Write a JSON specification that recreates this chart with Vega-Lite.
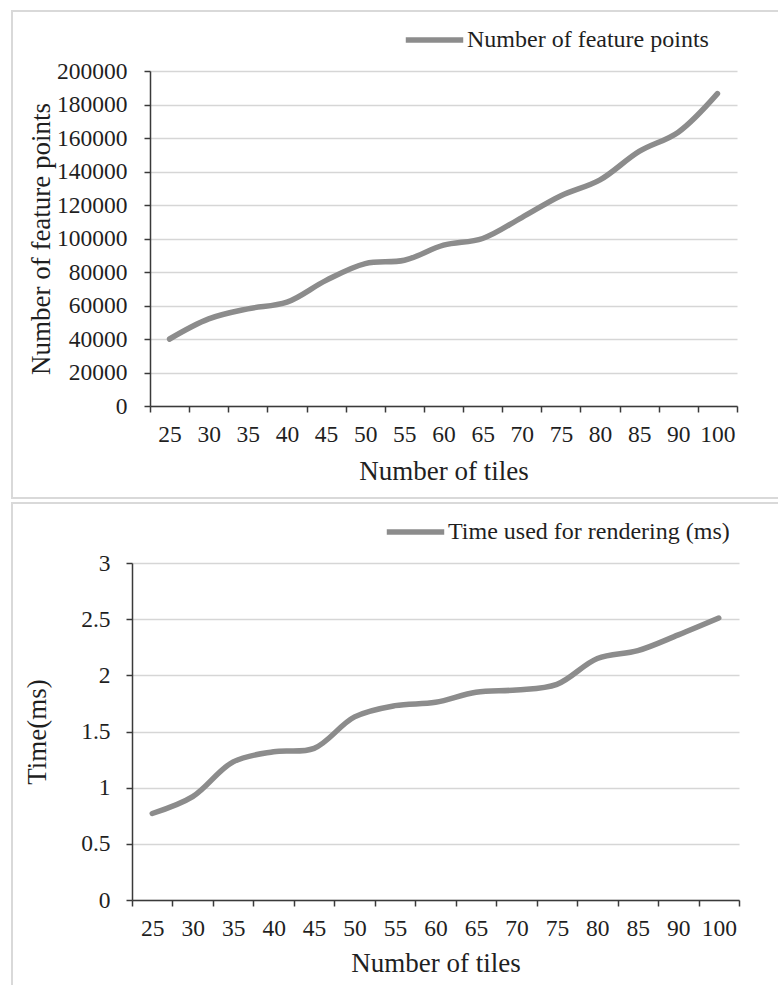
{
  "$schema": "https://vega.github.io/schema/vega-lite/v6.json",
  "background": "white",
  "padding": {"left": 11, "top": 10, "right": 0, "bottom": 0},
  "spacing": 3,
  "config": {
    "font": "Liberation Serif",
    "view": {"stroke": "#d9d9d9", "strokeWidth": 2},
    "axis": {
      "labelFont": "Liberation Serif",
      "labelFontSize": 23.5,
      "labelColor": "#1f1f1f",
      "titleFont": "Liberation Serif",
      "titleFontSize": 27,
      "titleFontWeight": "normal",
      "titleColor": "#1f1f1f",
      "domainColor": "#3a3a3a",
      "domainWidth": 1.5,
      "tickColor": "#3a3a3a",
      "tickWidth": 1.5,
      "tickSize": 6,
      "gridColor": "#d6d6d6",
      "gridWidth": 1.5
    },
    "legend": {
      "labelFont": "Liberation Serif",
      "labelFontSize": 24,
      "labelColor": "#1f1f1f",
      "labelLimit": 500,
      "symbolType": "stroke",
      "symbolStrokeWidth": 5.5,
      "symbolSize": 3300,
      "clipHeight": 26,
      "labelOffset": 1,
      "padding": 0,
      "offset": 0
    },
    "line": {"strokeWidth": 5.5, "strokeCap": "round", "interpolate": "catmull-rom"}
  },
  "resolve": {"scale": {"color": "independent"}},
  "vconcat": [
    {
      "width": 766,
      "height": 487,
      "view": {"strokeDash": [766, 487, 1253, 0.001]},
      "data": {"name": "featurePoints"},
      "mark": {"type": "line"},
      "encoding": {
        "x": {
          "field": "tiles",
          "type": "ordinal",
          "scale": {"type": "band", "range": [138, 725], "paddingInner": 0, "paddingOuter": 0},
          "axis": {
            "title": "Number of tiles",
            "offset": -92,
            "tickBand": "extent",
            "labelAngle": 0,
            "labelOverlap": false,
            "grid": false,
            "labelPadding": 10,
            "titlePadding": 13
          }
        },
        "y": {
          "field": "points",
          "type": "quantitative",
          "scale": {"domain": [0, 200000], "range": [395, 60], "nice": false},
          "axis": {
            "title": "Number of feature points",
            "offset": -138,
            "values": [0, 20000, 40000, 60000, 80000, 100000, 120000, 140000, 160000, 180000, 200000],
            "format": "d",
            "grid": true,
            "labelPadding": 17,
            "titlePadding": 1
          }
        },
        "color": {
          "datum": "Number of feature points",
          "scale": {"range": ["#8c8c8c"]},
          "legend": {"orient": "none", "legendX": 391, "legendY": 16, "title": null}
        }
      }
    },
    {
      "width": 766,
      "height": 482,
      "view": {"strokeDash": [766, 1248, 482, 0.001]},
      "data": {"name": "renderTime"},
      "mark": {"type": "line"},
      "encoding": {
        "x": {
          "field": "tiles",
          "type": "ordinal",
          "scale": {"type": "band", "range": [120, 727], "paddingInner": 0, "paddingOuter": 0},
          "axis": {
            "title": "Number of tiles",
            "offset": -85,
            "tickBand": "extent",
            "labelAngle": 0,
            "labelOverlap": false,
            "grid": false,
            "labelPadding": 10,
            "titlePadding": 11
          }
        },
        "y": {
          "field": "ms",
          "type": "quantitative",
          "scale": {"domain": [0, 3], "range": [397, 60], "nice": false},
          "axis": {
            "title": "Time(ms)",
            "offset": -120,
            "values": [0, 0.5, 1, 1.5, 2, 2.5, 3],
            "format": "~g",
            "grid": true,
            "labelPadding": 16,
            "titlePadding": 29
          }
        },
        "color": {
          "datum": "Time used for rendering (ms)",
          "scale": {"range": ["#8c8c8c"]},
          "legend": {"orient": "none", "legendX": 372, "legendY": 16, "title": null}
        }
      }
    }
  ],
  "datasets": {
    "featurePoints": [
      {"tiles": 25, "points": 40000},
      {"tiles": 30, "points": 52000},
      {"tiles": 35, "points": 58000},
      {"tiles": 40, "points": 62000},
      {"tiles": 45, "points": 75000},
      {"tiles": 50, "points": 85000},
      {"tiles": 55, "points": 87000},
      {"tiles": 60, "points": 96000},
      {"tiles": 65, "points": 100000},
      {"tiles": 70, "points": 112500},
      {"tiles": 75, "points": 125500},
      {"tiles": 80, "points": 135000},
      {"tiles": 85, "points": 152000},
      {"tiles": 90, "points": 163500},
      {"tiles": 100, "points": 186500}
    ],
    "renderTime": [
      {"tiles": 25, "ms": 0.77},
      {"tiles": 30, "ms": 0.92},
      {"tiles": 35, "ms": 1.23},
      {"tiles": 40, "ms": 1.32},
      {"tiles": 45, "ms": 1.35},
      {"tiles": 50, "ms": 1.63},
      {"tiles": 55, "ms": 1.73},
      {"tiles": 60, "ms": 1.76},
      {"tiles": 65, "ms": 1.85},
      {"tiles": 70, "ms": 1.87},
      {"tiles": 75, "ms": 1.92},
      {"tiles": 80, "ms": 2.15},
      {"tiles": 85, "ms": 2.22},
      {"tiles": 90, "ms": 2.36},
      {"tiles": 100, "ms": 2.51}
    ]
  }
}
